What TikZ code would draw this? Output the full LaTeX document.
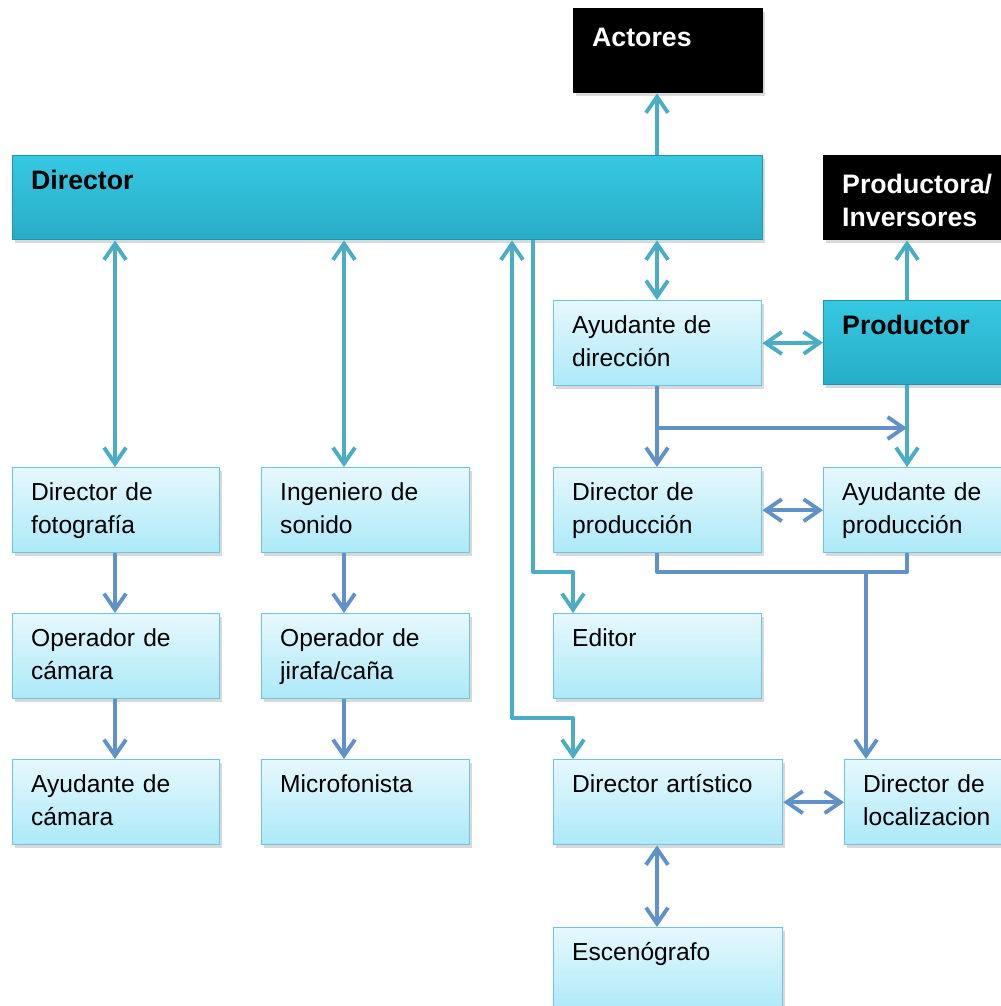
\documentclass[tikz,border=0pt]{standalone}
\usepackage{fontspec}
\setmainfont{Liberation Sans}
\usetikzlibrary{arrows.meta,shadows}

\definecolor{ltline}{RGB}{75,172,198}
\definecolor{dkline}{RGB}{96,146,200}
\definecolor{boxtop}{RGB}{230,248,253}
\definecolor{boxbot}{RGB}{172,233,248}
\definecolor{boxedge}{RGB}{110,196,220}
\definecolor{headtop}{RGB}{54,200,226}
\definecolor{headbot}{RGB}{40,172,198}
\definecolor{headedge}{RGB}{30,150,176}

\newcommand{\rolefont}{\fontsize{14}{18.5}\selectfont}
\newcommand{\headfont}{\fontsize{15.2}{18.5}\selectfont\bfseries}

\tikzset{
  >={Straight Barb[length=3.2mm,width=4.4mm]},
  lt/.style={ltline,line width=2.2pt,line join=round},
  dk/.style={dkline,line width=2.2pt,line join=round},
  box/.style={anchor=north west,align=left,inner xsep=0.37cm,inner ysep=0pt,line width=0.8pt,
    drop shadow={shadow xshift=0.04cm,shadow yshift=-0.06cm,opacity=0.3}},
  role/.style={box,draw=boxedge,top color=boxtop,bottom color=boxbot,font=\rolefont,
    text height=0.66cm,text depth=1.04cm},
  head/.style={box,draw=headedge,top color=headtop,bottom color=headbot,font=\headfont,
    text height=0.68cm,text depth=1.0cm},
  ext/.style={box,draw=black,fill=black,text=white,font=\headfont,
    text height=0.76cm,text depth=0.92cm}
}

\begin{document}
\begin{tikzpicture}[x=0.02cm,y=-0.02cm]
\useasboundingbox (0,0) rectangle (1000,1006);

% top row
\node[ext,text width=3.04cm] (act) at (573,8) {Actores};
\node[head,text width=14.26cm] (dir) at (12,155) {Director};
\node[ext,text width=3.04cm] (pin) at (823,155) {Productora/\\Inversores};

% production side
\node[role,text width=3.42cm] (ayd) at (553,300) {Ayudante de\\dirección};
\node[head,text width=3.04cm] (pro) at (823,300) {Productor};
\node[role,text width=3.42cm] (dpr) at (553,467) {Director de\\producción};
\node[role,text width=3.04cm] (apr) at (823,467) {Ayudante de\\producción};

% camera and sound
\node[role,text width=3.40cm] (dfo) at (12,467) {Director de\\fotografía};
\node[role,text width=3.42cm] (ing) at (261,467) {Ingeniero de\\sonido};
\node[role,text width=3.40cm] (opc) at (12,613) {Operador de\\cámara};
\node[role,text width=3.42cm] (opj) at (261,613) {Operador de\\jirafa/caña};
\node[role,text width=3.40cm] (ayc) at (12,759) {Ayudante de\\cámara};
\node[role,text width=3.42cm] (mic) at (261,759) {Microfonista};

% post and art
\node[role,text width=3.42cm] (edi) at (553,613) {Editor};
\node[role,text width=3.84cm] (dar) at (553,759) {Director artístico};
\node[role,text width=2.66cm] (dlo) at (844,759) {Director de\\localizacion};
\node[role,text width=3.84cm] (esc) at (553,927) {Escenógrafo};

% columns and rows of the connectors
\coordinate (colA) at (115,0);
\coordinate (colB) at (344,0);
\coordinate (colC) at (512,0);
\coordinate (colD) at (533,0);
\coordinate (colE) at (573,0);
\coordinate (colF) at (657,0);
\coordinate (colG) at (866,0);
\coordinate (colH) at (907,0);
\coordinate (rowA) at (0,428);
\coordinate (rowB) at (0,572);
\coordinate (rowD) at (0,718);

\draw[lt,->] (dir.north -| colF) -- (act.south -| colF);
\draw[lt,<->] (dir.south -| colA) -- (dfo.north -| colA);
\draw[lt,<->] (dir.south -| colB) -- (ing.north -| colB);
\draw[lt,<->] (dir.south -| colF) -- (ayd.north -| colF);
\draw[lt,->] (pro.north -| colH) -- (pin.south -| colH);
\draw[lt,<->] (ayd.east) -- (pro.west);
\draw[lt,->] (pro.south -| colH) -- (apr.north -| colH);
\draw[lt,->] (dir.south -| colD) |- (colE |- rowB) -- (edi.north -| colE);
\draw[lt,<->] (dir.south -| colC) |- (colE |- rowD) -- (dar.north -| colE);

\draw[dk,->] (ayd.south -| colF) -- (dpr.north -| colF);
\draw[dk,->] (colF |- rowA) -- (colH |- rowA);
\draw[dk,<->] (dpr.east) -- (apr.west);
\draw[dk] (dpr.south -| colF) |- (colH |- rowB) -- (apr.south -| colH);
\draw[dk,->] (colG |- rowB) -- (dlo.north -| colG);
\draw[dk,<->] (dar.east) -- (dlo.west);
\draw[dk,<->] (dar.south -| colF) -- (esc.north -| colF);

\draw[dk,->] (dfo.south -| colA) -- (opc.north -| colA);
\draw[dk,->] (opc.south -| colA) -- (ayc.north -| colA);
\draw[dk,->] (ing.south -| colB) -- (opj.north -| colB);
\draw[dk,->] (opj.south -| colB) -- (mic.north -| colB);
\end{tikzpicture}
\end{document}
